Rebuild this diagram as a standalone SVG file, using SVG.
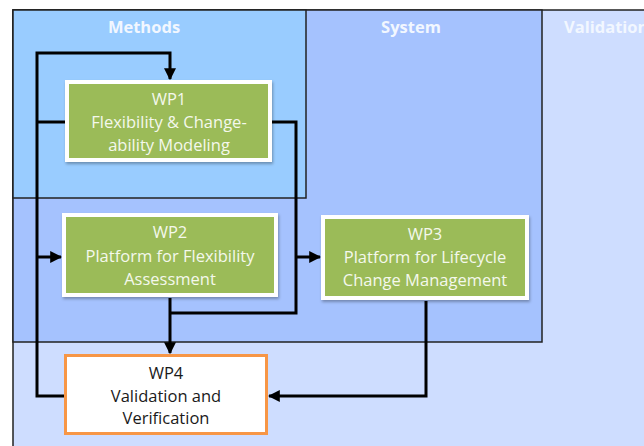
<svg xmlns="http://www.w3.org/2000/svg" width="644" height="446" viewBox="0 0 644 446">
<defs>
<marker id="arr" viewBox="0 0 10 10" refX="9" refY="5" markerWidth="4" markerHeight="4" orient="auto" markerUnits="strokeWidth">
<path d="M0,0 L10,5 L0,10 z" fill="#000"/>
</marker>
<filter id="sh" x="-10%" y="-10%" width="120%" height="130%">
<feDropShadow dx="1" dy="2" stdDeviation="1.5" flood-color="#000" flood-opacity="0.3"/>
</filter>
<style>
.title{font-family:"Open Sans","Liberation Sans",sans-serif;font-weight:bold;font-size:16.5px;fill:#F2F7FF;text-anchor:middle}
.wp{font-family:"Open Sans","Liberation Sans",sans-serif;font-size:16.5px;fill:#F4F8EC;text-anchor:middle}
.wp4{font-family:"Open Sans","Liberation Sans",sans-serif;font-size:16.5px;fill:#1a1a1a;text-anchor:middle}
.green{fill:#9BBB59;stroke:#fff;stroke-width:4;filter:url(#sh)}
.conn{fill:none;stroke:#000;stroke-width:3;stroke-linejoin:miter}
</style>
</defs>
<rect width="644" height="446" fill="#fff"/>
<g id="lanes">
<rect x="13" y="10" width="640" height="445" fill="#CEDDFF" stroke="#222" stroke-width="1.5"/>
<rect x="13" y="10" width="529" height="332" fill="#A5C2FE" stroke="#222" stroke-width="1.5"/>
<rect x="13" y="10" width="293" height="188" fill="#99CCFF" stroke="#222" stroke-width="1.5"/>
<text class="title" x="144" y="33">Methods</text>
<text class="title" x="411" y="33">System</text>
<text class="title" x="564" y="33" style="text-anchor:start">Validation</text>
</g>
<g id="connectors">
<path class="conn" d="M64,396 H37 V53 H170 V79" marker-end="url(#arr)"/>
<path class="conn" d="M66,122 H37"/>
<path class="conn" d="M37,257 H61" marker-end="url(#arr)"/>
<path class="conn" d="M271,122 H296 V313 H170"/>
<path class="conn" d="M296,257 H320" marker-end="url(#arr)"/>
<path class="conn" d="M170,298 V353" marker-end="url(#arr)"/>
<path class="conn" d="M426,301 V396 H269" marker-end="url(#arr)"/>
</g>
<g id="wp1">
<rect class="green" x="67" y="82" width="203" height="78"/>
<text class="wp" x="169" y="105">WP1</text>
<text class="wp" x="169" y="128">Flexibility &amp; Change-</text>
<text class="wp" x="169" y="151">ability Modeling</text>
</g>
<g id="wp2">
<rect class="green" x="64" y="215" width="212" height="80"/>
<text class="wp" x="170" y="238">WP2</text>
<text class="wp" x="170" y="262">Platform for Flexibility</text>
<text class="wp" x="170" y="285">Assessment</text>
</g>
<g id="wp3">
<rect class="green" x="323" y="217" width="204" height="81"/>
<text class="wp" x="425" y="240">WP3</text>
<text class="wp" x="425" y="263">Platform for Lifecycle</text>
<text class="wp" x="425" y="286">Change Management</text>
</g>
<g id="wp4">
<rect x="65.5" y="355.5" width="201" height="78" fill="#fff" stroke="#F79646" stroke-width="3"/>
<text class="wp4" x="166" y="379">WP4</text>
<text class="wp4" x="166" y="402">Validation and</text>
<text class="wp4" x="166" y="424">Verification</text>
</g>
</svg>
